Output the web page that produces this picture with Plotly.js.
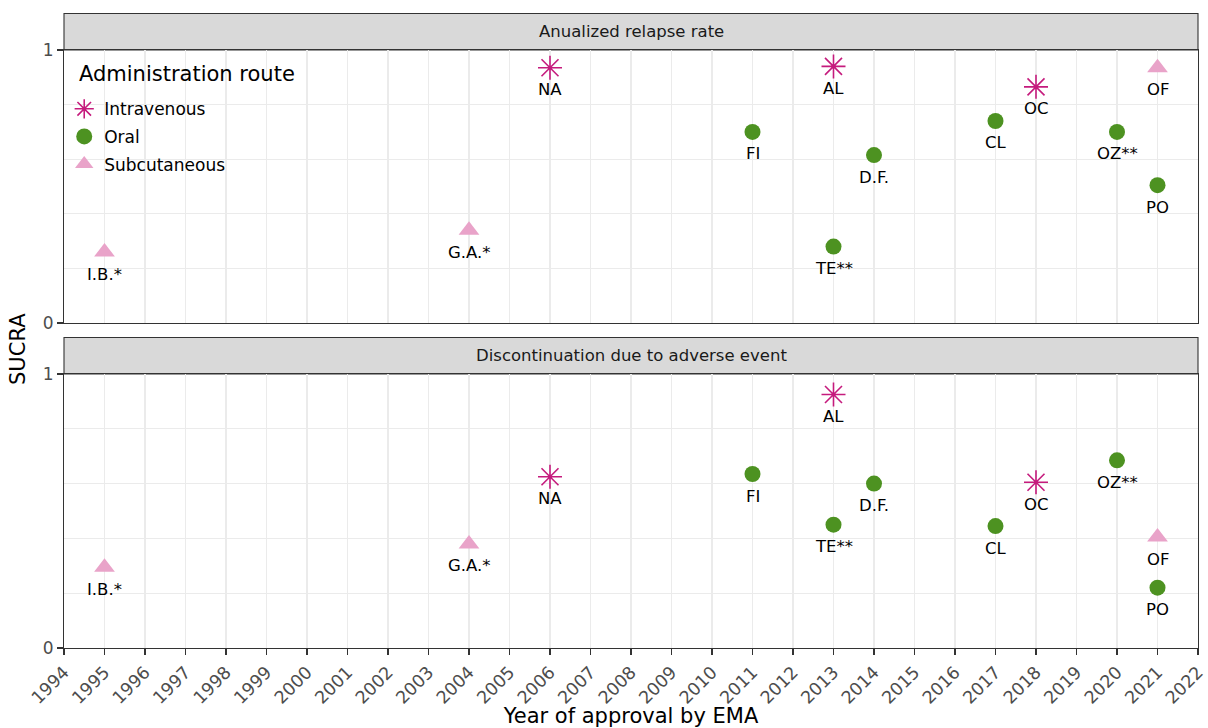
<!DOCTYPE html>
<html><head><meta charset="utf-8">
<script src="https://cdn.plot.ly/plotly-3.0.1.min.js"></script>
<style>html,body{margin:0;padding:0;background:#fff}#chart{width:1208px;height:728px}</style>
</head><body><div id="chart"></div>
<script>
const drugs  = ["I.B.*","G.A.*","NA","FI","AL","TE**","D.F.","CL","OC","OZ**","OF","PO"];
const years  = [1995,2004,2006,2011,2013,2013,2014,2017,2018,2020,2021,2021];
const routes = ["Subcutaneous","Subcutaneous","Intravenous","Oral","Intravenous","Oral","Oral","Oral","Intravenous","Oral","Subcutaneous","Oral"];
const arr    = [0.26,0.34,0.935,0.70,0.94,0.28,0.615,0.74,0.865,0.70,0.935,0.505];
const dae    = [0.295,0.38,0.625,0.635,0.925,0.45,0.60,0.445,0.605,0.685,0.405,0.22];
const routeNames = ["Intravenous","Oral","Subcutaneous"];
const panelTitles = ["Anualized relapse rate","Discontinuation due to adverse event"];
const legendTitle = "Administration route";
const xTicks = [];
for (let y = 1994; y <= 2022; y++) xTicks.push(y);

const routeStyle = {
  Intravenous: {symbol:"asterisk-open", color:"#C51B7D", size:20, line:{color:"#C51B7D", width:1.6}},
  Oral: {symbol:"circle", color:"#4D9221", size:16, line:{width:0}},
  Subcutaneous: {symbol:"triangle-up", color:"#E9A3C9", size:18, line:{width:0}}
};

const FONT = "DejaVu Sans";
const traces = [];
const annotations = [];
const panels = [{vals:arr, xa:"x2", ya:"y2"}, {vals:dae, xa:"x", ya:"y"}];
panels.forEach((p, pi) => {
  routeNames.forEach(r => {
    const idx = routes.map((v,i)=>v===r?i:-1).filter(i=>i>=0);
    const st = routeStyle[r];
    traces.push({
      type:"scatter", mode:"markers", name:r, legendgroup:r, showlegend: pi===0,
      x: idx.map(i=>years[i]), y: idx.map(i=>p.vals[i]),
      xaxis:p.xa, yaxis:p.ya,
      marker:{symbol:st.symbol, color:st.color, size:st.size, line:st.line},
      hoverinfo:"skip"
    });
  });
  drugs.forEach((d,i)=>{
    annotations.push({x:years[i], y:p.vals[i], xref:p.xa, yref:p.ya, text:d, showarrow:false,
      xanchor:"center", yanchor:"middle",
      yshift:-22, font:{family:FONT, size:16.5, color:"#000"}});
  });
});

// strips (decor)
const topDom = [0.5435, 1], botDom = [0, 0.4582];
const stripH = 0.061;
const shapes = [
  {type:"rect", xref:"paper", yref:"paper", x0:0, x1:1, y0:topDom[1], y1:topDom[1]+stripH, fillcolor:"#D9D9D9", line:{color:"#333333", width:1.1}, layer:"below"},
  {type:"rect", xref:"paper", yref:"paper", x0:0, x1:1, y0:botDom[1], y1:botDom[1]+stripH, fillcolor:"#D9D9D9", line:{color:"#333333", width:1.1}, layer:"below"}
];
annotations.push({xref:"paper", yref:"paper", x:0.5, y:topDom[1]+stripH/2, xanchor:"center", yanchor:"middle", text:panelTitles[0], showarrow:false, font:{family:FONT, size:16.5, color:"#1A1A1A"}});
annotations.push({xref:"paper", yref:"paper", x:0.5, y:botDom[1]+stripH/2, xanchor:"center", yanchor:"middle", text:panelTitles[1], showarrow:false, font:{family:FONT, size:16.5, color:"#1A1A1A"}});
annotations.push({xref:"paper", yref:"paper", x:-0.0406, y:0.5, xanchor:"center", yanchor:"middle", text:"SUCRA", textangle:-90, showarrow:false, font:{family:FONT, size:21, color:"#000"}});
annotations.push({xref:"paper", yref:"paper", x:0.0115, y:0.9599, xanchor:"left", yanchor:"middle", text:legendTitle, showarrow:false, font:{family:FONT, size:21, color:"#000"}});

const yBase = {
  range:[0,1], tickvals:[0,1], ticktext:["0","1"], ticks:"outside", ticklen:6, tickcolor:"#333333", tickwidth:1.5,
  tickfont:{family:FONT, size:17, color:"#4D4D4D"}, showgrid:false, zeroline:false,
  showline:true, linecolor:"#333333", linewidth:1.1, mirror:true,
  minor:{tickvals:[0.2,0.4,0.6,0.8], showgrid:true, gridcolor:"#EBEBEB", gridwidth:1, ticks:""}
};
const xBase = {
  range:[1994,2022], tickvals:xTicks, showgrid:true, gridcolor:"#EBEBEB", gridwidth:1.8, zeroline:false,
  showline:true, linecolor:"#333333", linewidth:1.1, mirror:true
};

const layout = {
  width:1208, height:728, paper_bgcolor:"#fff", plot_bgcolor:"#fff",
  margin:{l:64, r:10, t:50, b:80},
  font:{family:FONT},
  showlegend:true,
  legend:{x:0.0002, y:0.931, xanchor:"left", yanchor:"top", bgcolor:"rgba(0,0,0,0)",
    traceorder:"grouped", tracegroupgap:2.5,
    font:{family:FONT, size:17, color:"#000"}},
  xaxis: Object.assign({}, xBase, {anchor:"y", ticks:"outside", ticklen:6, tickcolor:"#333333", tickwidth:1.5, tickangle:-45,
    tickfont:{family:FONT, size:17.5, color:"#4D4D4D"},
    title:{text:"Year of approval by EMA", font:{family:FONT, size:21, color:"#000"}, standoff:2}, automargin:false}),
  xaxis2: Object.assign({}, xBase, {anchor:"y2", matches:"x", showticklabels:false, ticks:""}),
  yaxis: Object.assign({}, yBase, {domain:botDom, anchor:"x"}),
  yaxis2: Object.assign({}, yBase, {domain:topDom, anchor:"x2"}),
  shapes: shapes,
  annotations: annotations
};
Plotly.newPlot("chart", traces, layout, {displayModeBar:false, staticPlot:true});
</script></body></html>
